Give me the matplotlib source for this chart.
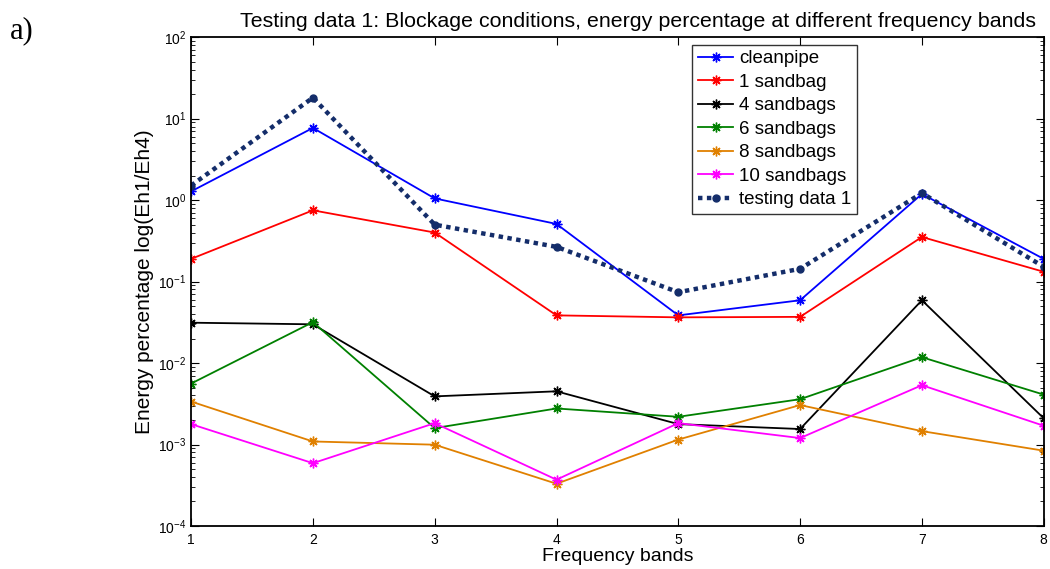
"""Blockage conditions: energy percentage per frequency band (log scale)."""

import matplotlib

matplotlib.use("Agg")
import matplotlib.pyplot as plt
from matplotlib.ticker import LogLocator, NullFormatter

bands = [1, 2, 3, 4, 5, 6, 7, 8]

cleanpipe = [1.28, 7.7, 1.05, 0.51, 0.0385, 0.059, 1.19, 0.19]
sandbag_1 = [0.19, 0.75, 0.40, 0.0385, 0.0364, 0.0369, 0.353, 0.132]
sandbags_4 = [0.0313, 0.0299, 0.0039, 0.0045, 0.00178, 0.00155, 0.059, 0.0021]
sandbags_6 = [0.0056, 0.0318, 0.00159, 0.00277, 0.00219, 0.0036, 0.0118, 0.0041]
sandbags_8 = [0.00337, 0.00109, 0.000995, 0.00033, 0.00115, 0.00305, 0.00146, 0.00084]
sandbags_10 = [0.00178, 0.00059, 0.00183, 0.00037, 0.00183, 0.0012, 0.00535, 0.0017]
testing_1 = [1.51, 18.1, 0.50, 0.267, 0.074, 0.1435, 1.22, 0.152]

series = [
    ("cleanpipe", cleanpipe, "#0000ff"),
    ("1 sandbag", sandbag_1, "#ff0000"),
    ("4 sandbags", sandbags_4, "#000000"),
    ("6 sandbags", sandbags_6, "#008000"),
    ("8 sandbags", sandbags_8, "#e08000"),
    ("10 sandbags", sandbags_10, "#ff00ff"),
]

plt.rcParams["font.family"] = ["Liberation Sans", "DejaVu Sans"]
plt.rcParams["mathtext.fontset"] = "custom"
plt.rcParams["mathtext.rm"] = "Liberation Sans"

fig = plt.figure(figsize=(10.5, 5.69), dpi=100)
ax = fig.add_axes([0.182, 0.0756, 0.812, 0.859])

# MATLAB-style '*' marker: eight spokes
star = (8, 2, 0)
for label, vals, color in series:
    ax.plot(bands, vals, color=color, linewidth=1.3, marker=star, markersize=7,
            markeredgewidth=1.0, label=label)
ax.plot(bands, testing_1, color="#142d6a", linewidth=3.2, linestyle=(0, (1, 1)),
        marker="o", markersize=5, label="testing data 1")

ax.set_yscale("log")
ax.set_ylim(1e-4, 1e2)
ax.set_xlim(1, 8)
ax.set_xticks(bands)
ax.yaxis.set_major_locator(LogLocator(base=10, numticks=10))
ax.yaxis.set_minor_locator(LogLocator(base=10, subs=range(2, 10), numticks=100))
ax.yaxis.set_minor_formatter(NullFormatter())
ax.tick_params(which="both", direction="in", top=True, right=True, labelsize=10)
ax.tick_params(which="major", length=6)
ax.tick_params(which="minor", length=3)
ax.tick_params(axis="x", pad=5)
for s in ax.spines.values():
    s.set_linewidth(1.3)

ax.set_xlabel("Frequency bands", fontsize=14, labelpad=1)
ax.set_ylabel("Energy percentage log(Eh1/Eh4)", fontsize=15, labelpad=3)
ax.set_title("Testing data 1: Blockage conditions, energy percentage at different frequency bands",
             fontsize=15.4, pad=7, x=0.524)

leg = ax.legend(loc="upper right", bbox_to_anchor=(0.781, 0.985), fontsize=13.5,
                frameon=True, fancybox=False, edgecolor="black", handlelength=1.9,
                handletextpad=0.3, borderpad=0.3, labelspacing=0.34, borderaxespad=0)
leg.get_frame().set_linewidth(1.0)

fig.text(0.009, 0.932, "a)", fontsize=22, family=["Liberation Serif", "DejaVu Serif"])

fig.savefig("out.png", dpi=100)
